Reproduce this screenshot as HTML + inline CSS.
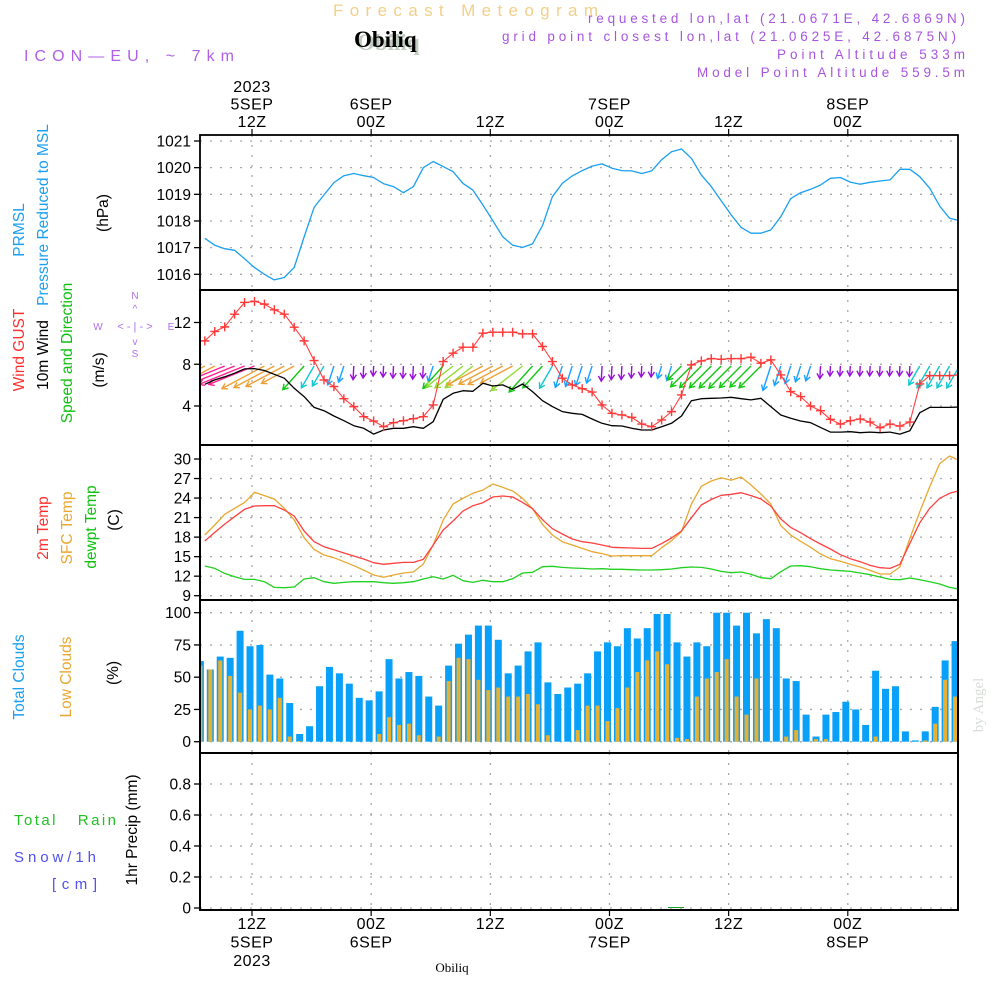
<!DOCTYPE html>
<html><head><meta charset="utf-8">
<style>
html,body{margin:0;padding:0;background:#fff;}
svg{display:block;font-family:"Liberation Sans",sans-serif;}
</style></head>
<body>
<svg id="chart" width="1000" height="1000" viewBox="0 0 1000 1000" xmlns="http://www.w3.org/2000/svg">
<defs>
<clipPath id="cp"><rect x="200" y="135" width="758" height="775"/></clipPath>
</defs>
<text x="333" y="16" font-size="17" fill="#f3cf8a" textLength="265" lengthAdjust="spacing">Forecast Meteogram</text>
<text x="357" y="50" font-size="23" font-weight="bold" fill="#c0ccc0" font-family="Liberation Serif,serif">Obiliq</text>
<text x="354" y="47" font-size="23" font-weight="bold" fill="#000" font-family="Liberation Serif,serif">Obiliq</text>
<text x="24" y="61" font-size="16" fill="#b060e8" textLength="210" lengthAdjust="spacing">ICON—EU, ~ 7km</text>
<g font-size="13.5" fill="#a855e0">
<text x="588" y="23" textLength="377" lengthAdjust="spacing">requested lon,lat (21.0671E, 42.6869N)</text>
<text x="502" y="41" textLength="454" lengthAdjust="spacing">grid point closest lon,lat (21.0625E, 42.6875N)</text>
<text x="777" y="59" textLength="188" lengthAdjust="spacing">Point Altitude 533m</text>
<text x="697" y="77" textLength="268" lengthAdjust="spacing">Model Point Altitude 559.5m</text>
</g>
<g font-size="15.5" text-anchor="middle">
<text transform="translate(24,230) rotate(-90)" fill="#1aa0f0">PRMSL</text>
<text transform="translate(48,215) rotate(-90)" fill="#1aa0f0">Pressure Reduced to MSL</text>
<text transform="translate(108,213) rotate(-90)" fill="#000">(hPa)</text>
<text transform="translate(24,350) rotate(-90)" fill="#ff3030">Wind GUST</text>
<text transform="translate(48,355) rotate(-90)" fill="#000">10m Wind</text>
<text transform="translate(72,353) rotate(-90)" fill="#10c010">Speed and Direction</text>
<text transform="translate(104,370) rotate(-90)" fill="#000">(m/s)</text>
<text transform="translate(48,528) rotate(-90)" fill="#ff3030">2m Temp</text>
<text transform="translate(72,528) rotate(-90)" fill="#e8a830">SFC Temp</text>
<text transform="translate(96,527) rotate(-90)" fill="#10c010">dewpt Temp</text>
<text transform="translate(119,520) rotate(-90)" fill="#000">(C)</text>
<text transform="translate(24,677) rotate(-90)" fill="#1aa0f0">Total Clouds</text>
<text transform="translate(71,677) rotate(-90)" fill="#e8a830">Low Clouds</text>
<text transform="translate(118,673) rotate(-90)" fill="#000">(%)</text>
<text transform="translate(137,830) rotate(-90)" fill="#000">1hr Precip (mm)</text>
</g>
<text x="14" y="825" font-size="15" fill="#20c020" textLength="102" lengthAdjust="spacing" xml:space="preserve">Total   Rain</text>
<text x="14" y="862" font-size="15" fill="#5050f0" textLength="82" lengthAdjust="spacing">Snow/1h</text>
<text x="52" y="889" font-size="15" fill="#5050f0" textLength="45" lengthAdjust="spacing">[cm]</text>
<text transform="translate(983,705) rotate(-90)" font-size="15" fill="#d8ddd8" text-anchor="middle" font-family="Liberation Serif,serif">by Angel</text>
<g fill="#b070e8" font-size="10" text-anchor="middle">
<text x="135" y="299">N</text><text x="98" y="330">W</text><text x="171" y="330">E</text><text x="135" y="357">S</text>
<text x="135" y="330" font-size="11">&lt; - | - &gt;</text>
<text x="135" y="312" font-size="10">^</text>
<text x="135" y="345" font-size="10">v</text>
</g>
<text x="452" y="972" font-size="13" font-family="Liberation Serif,serif" text-anchor="middle">Obiliq</text>
<g id="g"></g>
</svg>
<script>
const lineStartHour = 7.25;
const barStartHour = 6.8;
const pressure = [1017.35,1017.09,1016.96,1016.9,1016.58,1016.25,1016.0,1015.79,1015.88,1016.26,1017.4,1018.51,1018.98,1019.44,1019.7,1019.78,1019.7,1019.63,1019.4,1019.29,1019.06,1019.29,1020.0,1020.23,1020.04,1019.85,1019.41,1019.16,1018.6,1018.01,1017.41,1017.09,1017.01,1017.14,1017.83,1018.91,1019.41,1019.69,1019.89,1020.06,1020.14,1019.98,1019.89,1019.88,1019.78,1019.88,1020.3,1020.6,1020.7,1020.35,1019.73,1019.29,1018.76,1018.23,1017.76,1017.54,1017.54,1017.66,1018.16,1018.84,1019.06,1019.19,1019.35,1019.6,1019.63,1019.46,1019.38,1019.45,1019.5,1019.54,1019.94,1019.94,1019.66,1019.23,1018.56,1018.1,1018.01];
const gust = [10.24,11.14,11.58,12.8,13.92,14.02,13.76,13.22,12.8,11.55,10.24,8.35,6.5,5.86,4.7,3.94,2.98,2.56,2.02,2.4,2.59,2.78,2.98,4.1,8.26,9.06,9.63,9.63,10.98,11.07,11.07,11.07,10.91,10.91,9.7,8.26,6.66,6.02,5.66,5.34,4.1,3.3,3.14,2.91,2.27,2.02,2.66,3.46,5.06,7.94,8.32,8.54,8.48,8.54,8.54,8.67,8.1,8.42,6.98,5.38,4.9,4.0,3.55,2.72,2.27,2.59,2.75,2.46,1.92,2.27,2.08,2.46,6.11,6.91,6.91,6.91,6.98];
const wind = [6.08,6.5,6.8,7.14,7.55,7.58,7.4,7.04,6.66,5.7,4.9,3.87,3.55,3.04,2.59,2.11,1.86,1.31,1.7,1.86,1.86,2.02,1.86,2.5,4.64,5.22,5.47,5.41,6.18,5.92,6.02,5.6,6.11,5.38,4.51,3.94,3.46,3.3,3.2,2.75,2.34,2.11,2.08,1.86,1.7,1.7,2.02,2.34,3.04,4.51,4.7,4.74,4.77,4.83,4.7,4.58,4.74,3.94,3.14,2.82,2.56,2.4,1.95,1.5,1.5,1.54,1.44,1.5,1.44,1.5,1.31,1.63,3.36,3.87,3.87,3.87,3.9];
const windDir = [62,62,68,68,68,68,62,62,62,62,42,30,30,18,18,3,3,3,3,3,3,3,3,18,42,52,52,52,62,62,62,62,52,42,42,30,18,18,18,18,3,3,3,3,3,3,18,18,45,45,45,45,45,45,45,45,45,18,18,18,18,18,3,3,3,3,3,3,3,3,3,3,30,30,30,30,30];
const temp2m = [17.4,18.73,20.0,21.14,22.27,22.78,22.83,22.83,22.17,21.24,18.94,17.3,16.53,16.07,15.56,15.1,14.64,14.07,13.82,13.97,14.12,14.12,14.58,16.79,19.1,20.48,22.0,22.83,23.29,24.16,24.32,24.16,23.34,22.37,20.68,19.3,18.48,17.71,17.3,17.1,16.79,16.43,16.38,16.33,16.27,16.27,17.0,17.86,18.94,20.99,22.93,23.8,24.42,24.57,24.83,24.37,23.86,22.78,20.78,19.5,18.68,17.76,16.94,16.17,15.3,14.69,14.23,13.66,13.3,13.2,13.82,17.04,20.22,22.42,23.96,24.73,25.14];
const sfcTemp = [18.32,19.86,21.5,22.42,23.34,24.88,24.37,23.86,22.42,20.63,17.91,16.12,15.25,14.84,14.23,13.61,12.94,12.18,11.82,12.18,12.48,12.64,13.87,16.79,20.63,23.09,23.96,24.73,25.24,26.16,25.65,25.09,23.96,22.37,19.96,18.32,17.3,16.79,16.27,15.76,15.46,15.1,15.15,15.15,15.15,15.15,16.38,17.45,18.84,23.09,25.8,26.62,27.13,26.73,27.24,26.0,24.63,23.09,19.76,18.32,17.35,16.43,15.4,14.69,14.28,13.82,13.41,12.89,12.33,12.33,13.41,17.81,21.91,25.75,29.29,30.46,29.75];
const dewpt = [13.56,13.2,12.43,11.92,11.51,11.51,11.15,10.28,10.23,10.33,11.56,11.77,11.15,10.9,11.05,11.15,11.15,11.15,11.0,10.9,11.0,11.15,11.56,11.92,11.56,12.13,11.31,11.05,11.36,11.15,11.15,11.61,12.48,12.59,13.46,13.51,13.35,13.25,13.2,13.1,13.15,13.05,13.05,13.0,12.95,12.95,13.0,13.1,13.3,13.41,13.35,13.1,12.74,12.53,12.64,12.28,11.77,11.61,12.69,13.56,13.61,13.46,13.15,12.95,12.84,12.74,12.48,12.23,11.87,11.51,11.46,11.72,11.46,11.15,10.79,10.28,10.02];
const totalClouds = [62.5,56,66,65,86,74,75,52,49,30,6,12,43,58,53,45,34,32,39,64,49,54,51,35,28,59,76,83,90,90,79,53,59,70,77,46,37,42,45,53,70,77,74,88,80,88,99,99,77,66,77,74,100,100,90,100,84,95,88,49,47,21,4,21,23,31,25,13,55,41,43,8,1,8,27,63,78];
const lowClouds = [59,56,63,51,38,25,28,25,34,4,0.5,0,0,0,0,0,0,0,6,19,13,14,5,0,4,47,65,64,48,40,42,35,35,37,29,5,0,0,9,28,28,16,26,42,54,63,70,60,3,2,35,49,54,64,35,21,49,0,0,4,9,0,2,2,0,0,0,0,4,0,0,0,0,1,14,48,35];
const pressTicks = [1016,1017,1018,1019,1020,1021];
const windTicks = [4,8,12];
const tempTicks = [9,12,15,18,21,24,27,30];
const cloudTicks = [0,25,50,75,100];
const precipTicks = [0,0.2,0.4,0.6,0.8];
const timeTickHours = [12,24,36,48,60,72];
const topLabels = [["2023","5SEP","12Z"],["","6SEP","00Z"],["","","12Z"],["","7SEP","00Z"],["","","12Z"],["","8SEP","00Z"]];
const bottomLabels = [["12Z","5SEP","2023"],["00Z","6SEP",""],["12Z","",""],["00Z","7SEP",""],["12Z","",""],["00Z","8SEP",""]];

const NS="http://www.w3.org/2000/svg";
const g=document.getElementById('g');
const X0=200,X1=958;
function xt(h){return 252+(h-12)*9.93;}
function lin(d0,d1,r0,r1){return v=>r0+(v-d0)*(r1-r0)/(d1-d0);}
const yP=lin(1016,1021,274.3,141);
const yW=lin(4,12,406,322.5);
const yT=lin(9,30,595.7,459);
const yC=lin(0,100,741.7,612.7);
const yR=lin(0,0.8,908,784);
function el(tag,attrs,parent){const e=document.createElementNS(NS,tag);for(const k in attrs)e.setAttribute(k,attrs[k]);(parent||g).appendChild(e);return e;}
const panels=[[135,290],[290,445],[445,600],[600,753],[753,910]];

function hgrid(ticks,ys,name,fmt){
  ticks.forEach(v=>{
    const y=ys(v);
    const l=el('line',{x1:X0,x2:X1,y1:y,y2:y,stroke:'#a8a8a8','stroke-width':1.3,'stroke-dasharray':'2,8'});
    
    
    const t=el('line',{x1:X0-6,x2:X0,y1:y,y2:y,stroke:'#000','stroke-width':1.3});
    
    
    const tx=el('text',{x:X0-9,y:y+5.5,'font-size':15.5,'text-anchor':'end',fill:'#000'});
    tx.textContent=fmt?fmt(v):v;
    
    
  });
}
hgrid(pressTicks,yP,'pressure-axis');
hgrid(windTicks,yW,'wind-axis');
hgrid(tempTicks,yT,'temp-axis');
hgrid(cloudTicks,yC,'cloud-axis');
hgrid(precipTicks,yR,'precip-axis',v=>v===0?'0':v.toFixed(1));
panels.forEach(p=>{
  timeTickHours.forEach(h=>{
    const l=el('line',{x1:xt(h),x2:xt(h),y1:p[0],y2:p[1],stroke:'#a8a8a8','stroke-width':1.3,'stroke-dasharray':'2,8'});
    
    
  });
});
timeTickHours.forEach((h,i)=>{
  const x=xt(h);
  el('line',{x1:x,x2:x,y1:129,y2:135,stroke:'#000','stroke-width':1.2});
  el('line',{x1:x,x2:x,y1:910,y2:916,stroke:'#000','stroke-width':1.2});
  topLabels[i].forEach((s,j)=>{ if(!s)return;
    const t=el('text',{x:x,y:92+j*17.5,'font-size':16,'text-anchor':'middle',fill:'#000','letter-spacing':0.5});
    t.textContent=s;
    
    
  });
  bottomLabels[i].forEach((s,j)=>{ if(!s)return;
    const t=el('text',{x:x,y:929+j*18.5,'font-size':16,'text-anchor':'middle',fill:'#000','letter-spacing':0.5});
    t.textContent=s;
    
    
  });
});

const cg=el('g',{'clip-path':'url(#cp)'});


function line(arr,ys,color,name,w){
  const pts=arr.map((v,k)=>xt(lineStartHour+k).toFixed(1)+','+ys(v).toFixed(1)).join(' ');
  const p=el('polyline',{points:pts,fill:'none',stroke:color,'stroke-width':w||1.3,'stroke-linejoin':'round'},cg);
  
  
}
line(pressure,yP,'#1aa0f0','pressure-line');
function dirColor(d){ if(d<8)return '#9a10d8'; if(d<22)return '#1aa0ff'; if(d<35)return '#10c8d0'; if(d<48)return '#10c810'; if(d<57)return '#90dc30'; if(d<65)return '#eea035'; return '#ff2090'; }
windDir.forEach((d,k)=>{
  const x=xt(lineStartHour+k), y=366;
  const L=Math.max(10,6.5*wind[k]);
  const r=d*Math.PI/180;
  const dx=-Math.sin(r), dy=Math.cos(r);
  const hx=x+dx*L, hy=y+dy*L;
  const c=dirColor(d);
  const a=el('g',{stroke:c,'stroke-width':1.4,fill:'none'},cg);
  
  
  el('line',{x1:x,y1:y,x2:hx,y2:hy},a);
  const ang=Math.atan2(dy,dx), hl=6;
  el('polyline',{points:`${hx+hl*Math.cos(ang+2.6)},${hy+hl*Math.sin(ang+2.6)} ${hx},${hy} ${hx+hl*Math.cos(ang-2.6)},${hy+hl*Math.sin(ang-2.6)}`},a);
});
line(wind,yW,'#000','mean-wind-line');
line(gust,yW,'#ff4040','gust-line',1.1);
gust.forEach((v,k)=>{
  const x=xt(lineStartHour+k), y=yW(v);
  const m=el('path',{d:`M${x-4.5},${y}h9M${x},${y-4.5}v9`,stroke:'#ff3838','stroke-width':1.4},cg);
  
  
});
line(sfcTemp,yT,'#e8a830','sfc-temp-line');
line(temp2m,yT,'#ff4040','temp-2m-line');
line(dewpt,yT,'#20d020','dewpt-line');
totalClouds.forEach((v,i)=>{
  const x=xt(barStartHour+i);
  const b=el('rect',{x:x-3.5,y:yC(v),width:7,height:yC(0)-yC(v),fill:'#08a0f8'},cg);
  
  
  const lv=lowClouds[i];
  if(lv>0){
    const lb=el('rect',{x:x-2,y:yC(lv),width:4,height:yC(0)-yC(lv),fill:'#e8b030'},cg);
    
    
  }
});
const pl=el('line',{x1:668,x2:684,y1:907.5,y2:907.5,stroke:'#20a020','stroke-width':1},cg);


panels.forEach((p,i)=>{
  const r=el('rect',{x:X0,y:p[0],width:X1-X0,height:p[1]-p[0],fill:'none',stroke:'#000','stroke-width':i==0?1.8:2});
  
  
});
</script>
</body></html>
